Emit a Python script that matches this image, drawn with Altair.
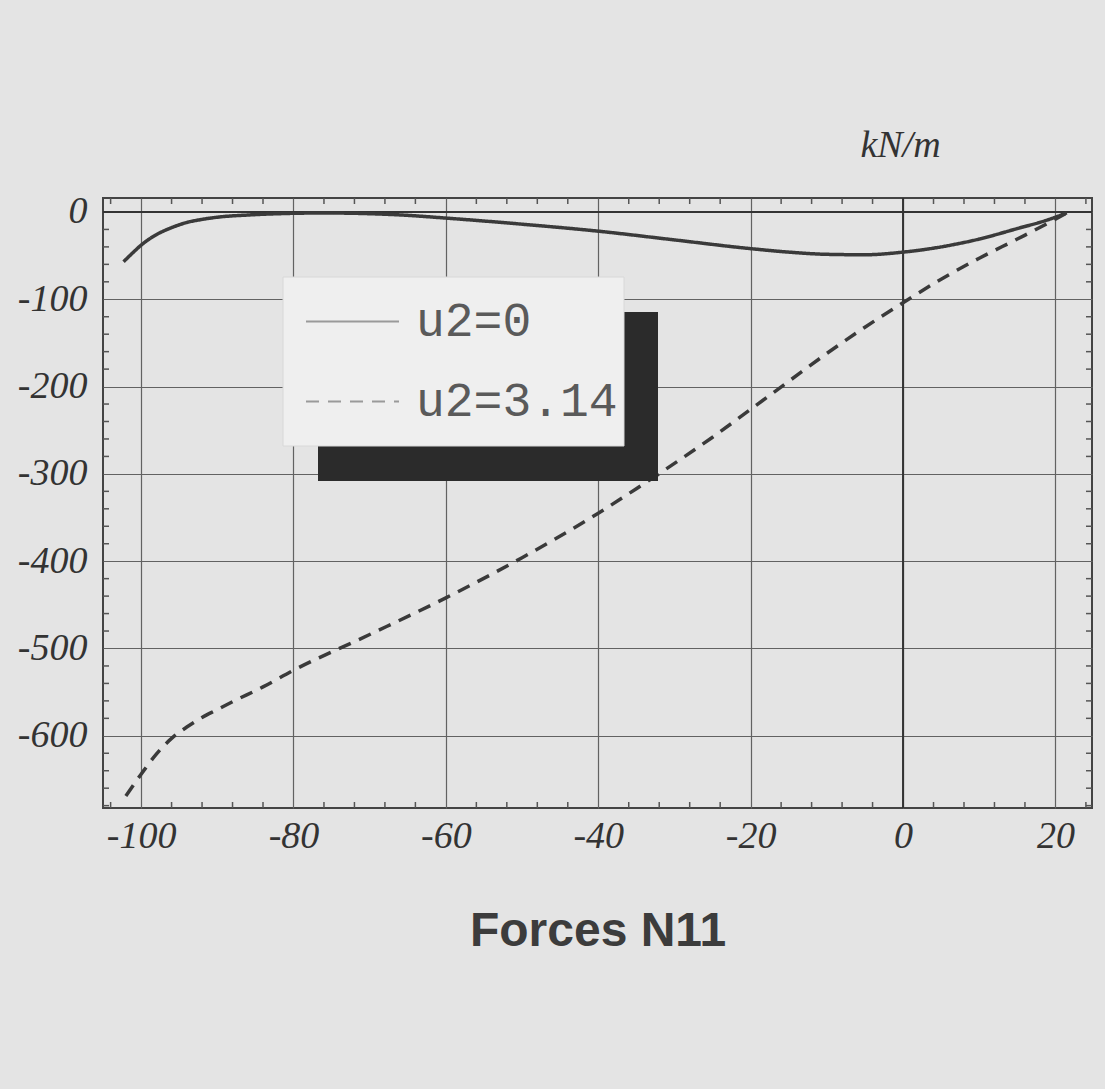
import altair as alt
import pandas as pd

# ---- data ----
series = ["u2=0", "u2=3.14"]

x_solid = [-102.3, -101, -100, -98, -96, -94, -92, -90, -86, -82, -78, -74, -70, -66, -60,
           -50, -40, -30, -20, -15, -10, -5, 0, 5, 10, 15, 19, 21.5]
y_solid = [-57, -46, -38, -26, -18, -12, -8.5, -6, -3.5, -2, -1.3, -1.3, -2, -3.4, -7,
           -14, -22, -32, -42, -46, -48.5, -49, -46, -40, -31, -19, -9, -1]

x_dash = [-102, -100, -98, -96, -94, -92, -90, -88, -84, -80, -70, -60, -50, -40, -35,
          -30, -25, -20, -15, -10, -5, 0, 5, 10, 15, 19, 21.3]
y_dash = [-669, -644, -621, -603, -590, -579, -570, -561, -544, -525, -484, -442, -396,
          -345, -317, -288, -258, -226, -194, -162, -132, -104, -77, -53, -31, -13, -2]

x_ticks = [-100, -80, -60, -40, -20, 0, 20]
y_ticks = [-600, -500, -400, -300, -200, -100, 0]
x_minor = [v for v in range(-104, 25, 4) if v % 20 != 0]
y_minor = [v for v in range(-680, 17, 20) if v % 100 != 0]

x_title = "Forces N11"
y_title = "kN/m"

# ---- tables ----
df = pd.concat([
    pd.DataFrame({"x": x_solid, "y": y_solid, "series": series[0]}),
    pd.DataFrame({"x": x_dash, "y": y_dash, "series": series[1]}),
])

W, H = 989, 610
XS = alt.Scale(domain=[-105, 24.8], nice=False, zero=False)
YS = alt.Scale(domain=[-682.7, 16], nice=False, zero=False)

label_font = "Liberation Serif"
ink = "#3a3a3a"
lbl = "'' + datum.value"

x_axis = alt.Axis(values=x_ticks, grid=True, gridColor="#626262", gridWidth=1.2,
                  domain=False, ticks=False, labelFont=label_font, labelFontStyle="italic",
                  labelFontSize=38, labelColor="#333", labelBaseline="alphabetic",
                  labelPadding=39, labelExpr=lbl, labelFlush=False,
                  title=x_title, titleFont="Liberation Sans", titleFontWeight="bold",
                  titleFontSize=48, titleColor="#3c3c3c", titleBaseline="alphabetic",
                  titleY=137, titleX=W / 2, titleAlign="center")
y_axis = alt.Axis(values=y_ticks, grid=True, gridColor="#626262", gridWidth=1.2,
                  domain=False, ticks=False, labelFont=label_font, labelFontStyle="italic",
                  labelFontSize=38, labelColor="#333", labelPadding=16, labelExpr=lbl,
                  labelFlush=False,
                  title=y_title, titleFont=label_font, titleFontStyle="italic",
                  titleFontWeight="normal", titleFontSize=38, titleColor="#333",
                  titleAngle=0, titleAlign="center", titleBaseline="alphabetic",
                  titleX=797, titleY=-42)

legend = alt.Legend(title=None, orient="none", legendX=181, legendY=76,
                    padding=0, symbolType="stroke", symbolSize=8649, symbolStrokeWidth=2,
                    symbolStrokeColor="#9a9a9a", symbolOffset=21,
                    labelFont="Liberation Mono", labelFontSize=48, labelColor="#5a5a5a",
                    labelOffset=16, labelLimit=400, rowPadding=8, direction="vertical")

X = alt.X("x:Q", scale=XS, axis=x_axis)
Y = alt.Y("y:Q", scale=YS, axis=y_axis)

lines = alt.Chart(df).mark_line(strokeWidth=3.5, color=ink, interpolate="monotone",
                                clip=True).encode(
    x=X, y=Y,
    strokeDash=alt.StrokeDash("series:N",
                              scale=alt.Scale(domain=series, range=[[1, 0], [13, 9]]),
                              legend=legend),
)

zero_v = alt.Chart(pd.DataFrame({"x": [0]})).mark_rule(color="#333", strokeWidth=2).encode(x=X)
zero_h = alt.Chart(pd.DataFrame({"y": [0]})).mark_rule(color="#333", strokeWidth=2).encode(y=Y)

tick_color = "#555"
mx = pd.DataFrame({"x": x_minor})
my = pd.DataFrame({"y": y_minor})
minor_bottom = alt.Chart(mx).mark_rule(color=tick_color, strokeWidth=1.5).encode(
    x=X, y=alt.value(H), y2=alt.value(H - 6))
minor_top = alt.Chart(mx).mark_rule(color=tick_color, strokeWidth=1.5).encode(
    x=X, y=alt.value(0), y2=alt.value(6))
minor_left = alt.Chart(my).mark_rule(color=tick_color, strokeWidth=1.5).encode(
    y=Y, x=alt.value(0), x2=alt.value(6))
minor_right = alt.Chart(my).mark_rule(color=tick_color, strokeWidth=1.5).encode(
    y=Y, x=alt.value(W), x2=alt.value(W - 6))

# legend frame: dark drop shadow and light panel (decoration)
shadow = alt.Chart(pd.DataFrame({"k": [0]})).mark_rect(color="#2b2b2b").encode(
    x=alt.value(215), x2=alt.value(555), y=alt.value(114), y2=alt.value(283))
panel = alt.Chart(pd.DataFrame({"k": [0]})).mark_rect(
    color="#efefef", stroke="#d8d8d8", strokeWidth=1).encode(
    x=alt.value(180), x2=alt.value(521), y=alt.value(79), y2=alt.value(248))

chart = alt.layer(zero_v, zero_h, minor_bottom, minor_top, minor_left, minor_right,
                  lines, shadow, panel).properties(
    width=W, height=H,
    autosize=alt.AutoSizeParams(type="none"),
    padding={"left": 103, "top": 198, "right": 13, "bottom": 281},
    background="#e4e4e4",
).configure_view(stroke="#444", strokeWidth=2)

chart.save("out.html", embed_options={"renderer": "svg", "actions": False})
